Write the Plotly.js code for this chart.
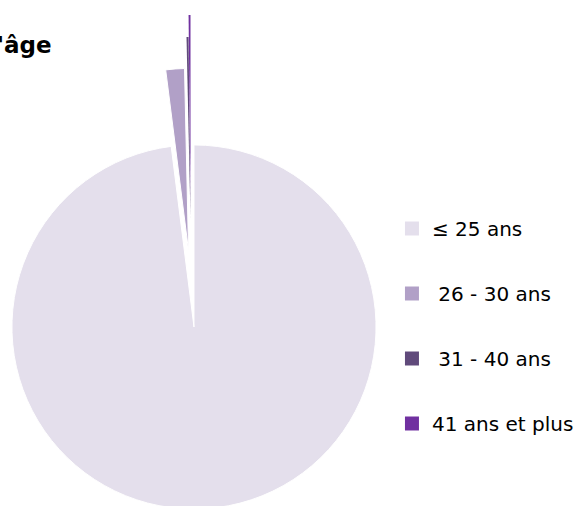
<!DOCTYPE html>
<html><head><meta charset="utf-8">
<script src="https://cdn.plot.ly/plotly-3.0.1.min.js"></script>
<style>html,body{margin:0;padding:0;overflow:hidden;background:#fff}#chart{width:579px;height:512px}</style>
</head><body><div id="chart"></div>
<script>
// ---- data ----
const categories = ["≤ 25 ans", "\u00a026 - 30 ans", "\u00a031 - 40 ans", "41 ans et plus"];
const shares = [98.0, 1.65, 0.18, 0.17];
const colors = ["#E4DFEC", "#B1A0C7", "#604A7B", "#7030A0"];
const titleText = "l'âge";

// ---- layout helpers (pixel geometry of the exploded pie) ----
const W = 579, H = 512;
const R = 183;
const centers = [[195, 327], [189.5, 250.5], [191.5, 219], [191.5, 197]];
function dom(cx, cy) {
  return {x: [(cx - R) / W, (cx + R) / W], y: [1 - (cy + R) / H, 1 - (cy - R) / H]};
}
const clear = 'rgba(0,0,0,0)';

const pies = categories.map((c, k) => ({
  type: 'pie', labels: categories, values: shares,
  sort: false, direction: 'clockwise', rotation: 0,
  domain: dom(centers[k][0], centers[k][1]),
  textinfo: 'none', hoverinfo: 'label+percent', showlegend: false,
  marker: {
    colors: colors.map((col, i) => i === k ? col : clear),
    line: {color: categories.map((_, i) => (i === k && k < 2) ? '#ffffff' : clear), width: 1}
  }
}));

const legendTraces = categories.map((c, k) => ({
  type: 'scatter', mode: 'markers', x: [null], y: [null], name: c,
  legendgroup: 'g' + k, hoverinfo: 'skip',
  marker: {symbol: 'square', size: 14, color: colors[k]}
}));

const layout = {
  width: W, height: H,
  margin: {l: 0, r: 0, t: 0, b: 0},
  paper_bgcolor: '#fff', plot_bgcolor: '#fff',
  xaxis: {visible: false}, yaxis: {visible: false},
  showlegend: true,
  legend: {
    x: 394 / W, xanchor: 'left', y: 1 - 209 / H, yanchor: 'top',
    traceorder: 'grouped', tracegroupgap: 36,
    font: {family: 'DejaVu Sans', size: 20, color: '#000'},
    bgcolor: clear
  },
  annotations: [{
    text: '<b>' + titleText + '</b>', xref: 'paper', yref: 'paper',
    x: 54 / W, xanchor: 'right', y: 1 - 45 / H, yanchor: 'middle',
    showarrow: false, font: {family: 'DejaVu Sans', size: 23, color: '#000'}
  }]
};

Plotly.newPlot('chart', pies.concat(legendTraces), layout, {displayModeBar: false, responsive: false});
</script></body></html>
